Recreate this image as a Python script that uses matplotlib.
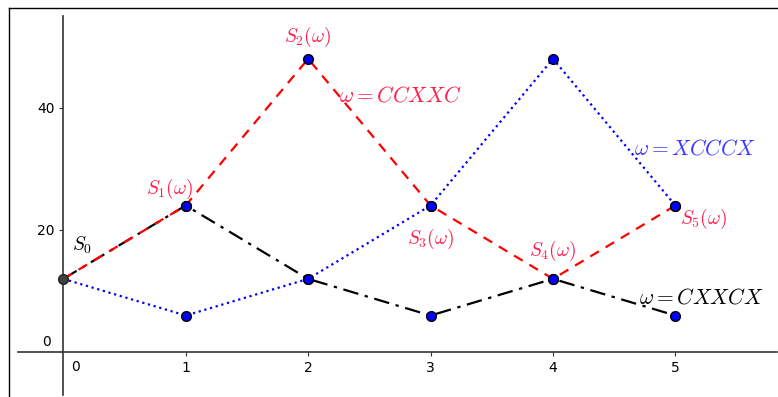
import matplotlib.pyplot as plt
from matplotlib.lines import Line2D

steps = [0, 1, 2, 3, 4, 5]
path_ccxxc = [12, 24, 48, 24, 12, 24]
path_xcccx = [12, 6, 12, 24, 48, 24]
path_cxxcx = [12, 24, 12, 6, 12, 6]
s0 = 12

red_txt = '#ff1f4f'
blue_txt = '#3a3aff'

def main():
    plt.rcParams['mathtext.fontset'] = 'cm'
    fig = plt.figure(figsize=(7.78, 3.97), dpi=100)
    ax = fig.add_axes([18/778, 2/397, 759/778, 379/397])
    ax.set_xlim(-0.37, 5.83)
    ax.set_ylim(-7, 55)

    ax.plot(steps, path_xcccx, color='blue', ls=':', lw=1.6, zorder=2)
    ax.plot(steps, path_cxxcx, color='black', ls=(0, (7, 3, 1.5, 3)), lw=1.6, zorder=2)
    ax.plot(steps, path_ccxxc, color='red', ls=(0, (4.5, 3.5)), lw=1.6, zorder=3)
    for p in (path_ccxxc, path_xcccx, path_cxxcx):
        ax.plot(steps[1:], p[1:], ls='none', marker='o', ms=7, mfc='blue', mec='black', mew=1, zorder=4)
    ax.plot([0], [s0], ls='none', marker='o', ms=7, mfc='#404040', mec='#202020', mew=1, zorder=4)

    # axes through the origin
    for s in ('top', 'right'):
        ax.spines[s].set_visible(False)
    ax.spines['left'].set_position(('data', 0))
    ax.spines['bottom'].set_position(('data', 0))
    ax.spines['left'].set_color('#333333')
    ax.spines['bottom'].set_color('#333333')
    ax.spines['left'].set_linewidth(1.2)
    ax.spines['bottom'].set_linewidth(1.2)
    ax.set_xticks([1, 2, 3, 4, 5])
    ax.set_yticks([20, 40])
    ax.tick_params(direction='out', length=3, color='#333333', labelsize=10, pad=3)
    ax.text(0.1, -1.2, '0', fontsize=10, ha='center', va='top')
    ax.text(-0.1, 0.5, '0', fontsize=10, ha='right', va='bottom')

    fs = 14
    fw = 15.5
    ax.text(0.07, 17.5, r'$S_0$', fontsize=fs, color='black', ha='left', va='center')
    ax.text(0.87, 26.7, r'$S_1(\omega)$', fontsize=fs, color=red_txt, ha='center', va='center')
    ax.text(2.0, 51.5, r'$S_2(\omega)$', fontsize=fs, color=red_txt, ha='center', va='center')
    ax.text(2.255, 42, r'$\omega = CCXXC$', fontsize=fw, color=red_txt, ha='left', va='center')
    ax.text(3.0, 18.5, r'$S_3(\omega)$', fontsize=fs, color=red_txt, ha='center', va='center')
    ax.text(4.0, 16.5, r'$S_4(\omega)$', fontsize=fs, color=red_txt, ha='center', va='center')
    ax.text(5.23, 21.8, r'$S_5(\omega)$', fontsize=fs, color=red_txt, ha='center', va='center')
    ax.text(4.66, 33.3, r'$\omega = XCCCX$', fontsize=fw, color=blue_txt, ha='left', va='center')
    ax.text(4.70, 9, r'$\omega = CXXCX$', fontsize=fw, color='black', ha='left', va='center')

    # frame
    fig.add_artist(Line2D([8.5/778, 8.5/778], [0, 1 - 7.5/397], transform=fig.transFigure, color='black', lw=1))
    fig.add_artist(Line2D([8.5/778, 1], [1 - 7.5/397, 1 - 7.5/397], transform=fig.transFigure, color='black', lw=1))

    fig.savefig('out.png', dpi=100)

if __name__ == "__main__":
    main()
